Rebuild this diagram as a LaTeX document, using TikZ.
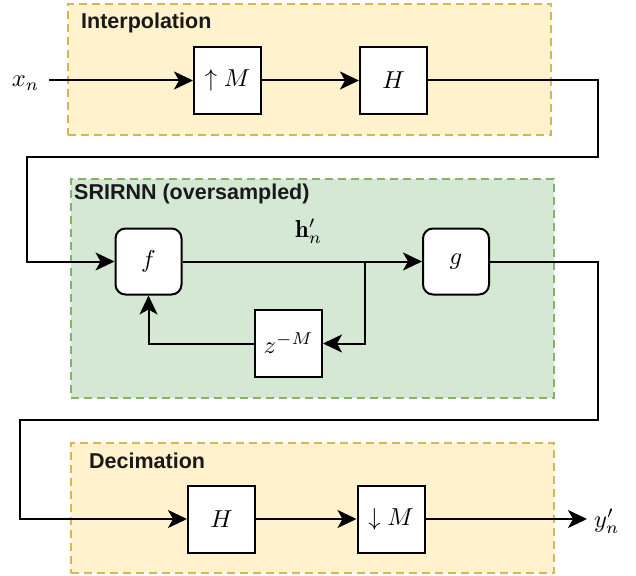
\documentclass[tikz,border=0pt]{standalone}
\usepackage{fontspec}
\usepackage{amsmath}
\usetikzlibrary{arrows.meta}
\newfontfamily\lblfont{Liberation Sans}

\definecolor{yfill}{HTML}{FFF2CC}
\definecolor{ydraw}{HTML}{D6B656}
\definecolor{gfill}{HTML}{D5E8D4}
\definecolor{gdraw}{HTML}{82B366}

% math set at the 10pt design size and enlarged
\newcommand{\bigmath}[1]{\scalebox{2.45}{$#1$}}

\tikzset{
  grp/.style={draw, line width=2pt, dash pattern=on 8pt off 5pt, inner sep=0pt},
  yellowgrp/.style={grp, draw=ydraw, fill=yfill},
  greengrp/.style={grp, draw=gdraw, fill=gfill},
  grplabel/.style={font=\lblfont\bfseries\fontsize{21.5}{26}\selectfont, text=black!90, inner sep=0pt, anchor=base west},
  blk/.style={draw, fill=white, line width=2pt, minimum width=67pt, minimum height=67pt, inner sep=0pt},
  rblk/.style={blk, rounded corners=10pt, minimum width=66pt, minimum height=66pt},
  sig/.style={inner sep=0pt},
  wire/.style={line width=2pt},
  arr/.style={wire, -{Stealth[length=19pt, width=18pt, inset=5pt]}},
}

\begin{document}
\begin{tikzpicture}[x=1pt, y=-1pt]
\useasboundingbox (0,0) rectangle (636,575);

% group frames
\node[yellowgrp, minimum width=483.5pt, minimum height=131pt] (interp) at (309.25,69.5) {};
\node[greengrp, minimum width=483pt, minimum height=219pt] (rnn) at (312.5,288.5) {};
\node[yellowgrp, minimum width=483pt, minimum height=130pt] (decim) at (312.5,508) {};

\node[grplabel] (interplbl) at (81,28.3) {Interpolation};
\node[grplabel] (rnnlbl) at (74,199.5) {SRIRNN (oversampled)};
\node[grplabel] (decimlbl) at (89,468) {Decimation};

% interpolation stage
\node[blk] (up) at (227.5,80.5) {\bigmath{\uparrow M}};
\node[blk] (H1) at (393.5,80.5) {\bigmath{H}};
\node[sig, anchor=base east] (xn) at (39.5,87) {\bigmath{x_n}};
\coordinate (xin) at (49,80.5);

% recurrent stage
\node[rblk] (f) at (148.5,261.5) {\bigmath{f}};
\node[rblk] (g) at (456,261.5) {\bigmath{g}};
\node[blk] (z) at (288.5,343.5) {\bigmath{z^{-M}}};
\node[sig, anchor=base west] (h) at (295,237) {\bigmath{\mathbf{h}'_n}};
\coordinate (jn) at (365,261.5);

% decimation stage
\node[blk] (H2) at (221.5,519) {\bigmath{H}};
\node[blk] (down) at (391,519) {\bigmath{\downarrow M}};
\coordinate (yout) at (587,519);
\node[sig, anchor=base west] (yn) at (594,527) {\bigmath{y'_n}};

% signal flow
\draw[arr] (xin) -- (up.west);
\draw[arr] (up.east) -- (H1.west);
\draw[arr] (H1.east) -- (598,80.5) -- (598,157) -- (27,157) |- (f.west);
\draw[arr] (f.east) -- (g.west);
\draw[arr] (jn) |- (z.east);
\draw[arr] (z.west) -| (f.south);
\draw[arr] (g.east) -- (598,261.5) -- (598,420) -- (20,420) |- (H2.west);
\draw[arr] (H2.east) -- (down.west);
\draw[arr] (down.east) -- (yout);
\end{tikzpicture}
\end{document}
